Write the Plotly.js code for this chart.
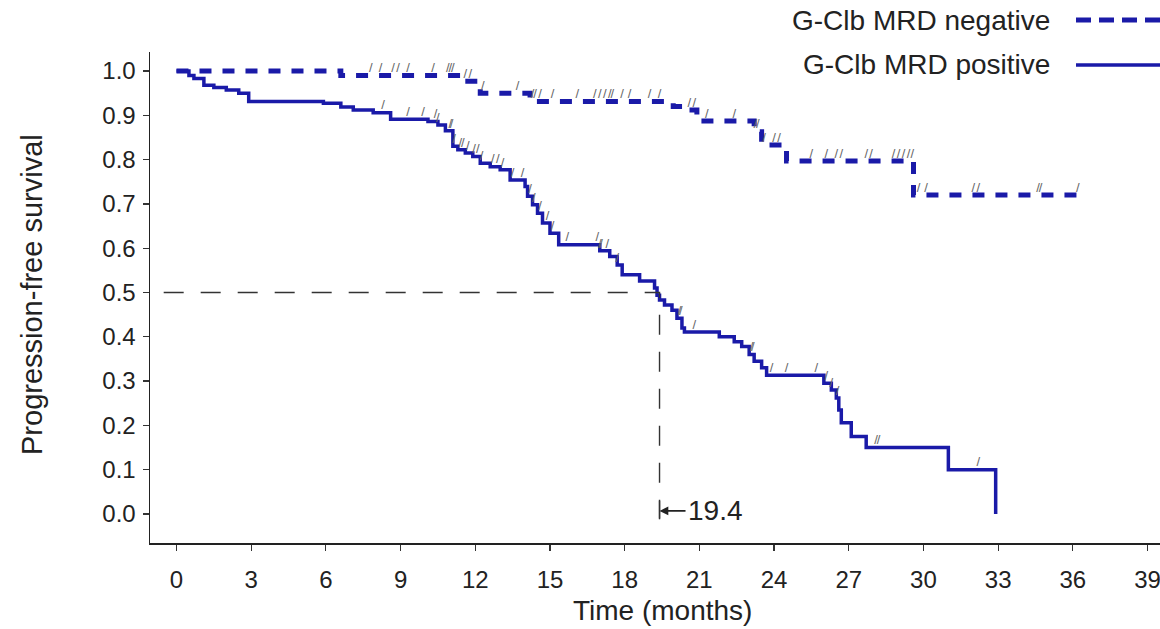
<!DOCTYPE html>
<html>
<head>
<meta charset="utf-8">
<script src="https://cdn.plot.ly/plotly-3.0.1.min.js"></script>
<style>
  html, body { margin: 0; padding: 0; background: #fff; }
  #chart { width: 1160px; height: 629px; }
</style>
</head>
<body>
<div id="chart"></div>
<script>
// ---- Data ----
const seriesNames = ["G-Clb MRD negative", "G-Clb MRD positive"];
const xTitle = "Time (months)";
const yTitle = "Progression-free survival";

// MRD negative: KM step times (months) and survival after each step
const negTimes = [0, 6.6, 11.5, 12.2, 14.2, 19.95, 20.5, 20.9, 23.2, 23.5, 24.5, 29.6, 36.2];
const negSurv  = [1.0, 0.99, 0.977, 0.95, 0.931, 0.92, 0.912, 0.887, 0.863, 0.833, 0.797, 0.72, 0.72];
const negCensor = [7.8, 8.2, 8.7, 8.9, 9.3, 10.3, 10.9, 11.0, 11.1, 11.6, 11.8, 12.3, 13.7, 14.3, 14.4,
  14.6, 15.1, 16.1, 16.8, 17.0, 17.2, 17.4, 17.5, 17.9, 18.2, 19.0, 19.4, 20.6, 20.8, 21.3, 22.4,
  23.25, 23.35, 23.6, 24.0, 24.2, 25.5, 26.1, 26.5, 26.7, 27.7, 27.9, 28.8, 29.0, 29.2, 29.4, 29.55,
  29.8, 30.1, 32.0, 32.2, 34.6, 34.7, 36.2];

// MRD positive
const posTimes = [0, 0.5, 0.7, 1.1, 1.5, 2.0, 2.5, 2.9, 5.9, 6.6, 7.1, 7.9, 8.6, 10.1, 10.5, 10.8,
  11.1, 11.3, 11.6, 11.9, 12.2, 12.6, 13.0, 13.4, 14.0, 14.1, 14.3, 14.5, 14.7, 15.0, 15.35,
  17.0, 17.4, 17.7, 17.9, 18.6, 19.2, 19.3, 19.4, 19.6, 19.9, 20.1, 20.3, 20.4,
  21.8, 22.4, 22.7, 23.0, 23.2, 23.5, 23.7, 26.0, 26.3, 26.5, 26.6, 26.7, 27.1, 27.7, 31.0, 32.9];
const posSurv = [1.0, 0.99, 0.983, 0.968, 0.963, 0.957, 0.95, 0.931, 0.927, 0.919, 0.912, 0.906, 0.891, 0.886, 0.878, 0.865,
  0.83, 0.822, 0.815, 0.807, 0.792, 0.784, 0.777, 0.754, 0.739, 0.717, 0.698, 0.679, 0.657, 0.634, 0.608,
  0.594, 0.581, 0.562, 0.54, 0.526, 0.51, 0.494, 0.483, 0.472, 0.46, 0.442, 0.42, 0.411,
  0.40, 0.389, 0.378, 0.36, 0.345, 0.33, 0.313, 0.295, 0.28, 0.262, 0.235, 0.206, 0.175, 0.15, 0.10, 0.0];
const posCensor = [8.3, 9.3, 9.9, 10.4, 10.5, 11.0, 11.05, 11.15, 11.4, 11.5, 11.7, 11.95, 12.1, 12.25, 12.7, 12.9,
  13.1, 13.5, 13.9, 14.2, 14.35, 14.6, 14.9, 15.1, 15.7, 16.9, 17.0, 17.05, 17.3, 17.7, 20.2, 20.25, 20.8,
  23.1, 23.15, 23.9, 24.5, 25.7, 26.1, 26.3, 26.55, 28.1, 28.2, 32.2];

const medianTime = 19.4;
const medianSurv = 0.5;

const xTicks = [0, 3, 6, 9, 12, 15, 18, 21, 24, 27, 30, 33, 36, 39];
const yTicks = [0, 0.1, 0.2, 0.3, 0.4, 0.5, 0.6, 0.7, 0.8, 0.9, 1.0];

// ---- Helpers ----
function stepValue(times, surv, t) {
  let v = surv[0];
  for (let i = 0; i < times.length; i++) { if (times[i] <= t) v = surv[i]; }
  return v;
}

const BLUE = "#1a1aa8";
const FONT = "Liberation Sans, Arial, sans-serif";
const TXT = "#222";

const traces = [
  { x: negTimes, y: negSurv, mode: "lines", line: { shape: "hv", color: BLUE, width: 5, dash: "12px,11px" },
    name: seriesNames[0], showlegend: false, hoverinfo: "skip" },
  { x: posTimes, y: posSurv, mode: "lines", line: { shape: "hv", color: BLUE, width: 3.5 },
    name: seriesNames[1], showlegend: false, hoverinfo: "skip" },
  { x: negCensor, y: negCensor.map(t => stepValue(negTimes, negSurv, t)), mode: "text", text: negCensor.map(() => "/"),
    textposition: "top center", textfont: { family: FONT, size: 13, color: "#666" }, showlegend: false, hoverinfo: "skip" },
  { x: posCensor, y: posCensor.map(t => stepValue(posTimes, posSurv, t)), mode: "text", text: posCensor.map(() => "/"),
    textposition: "top center", textfont: { family: FONT, size: 13, color: "#666" }, showlegend: false, hoverinfo: "skip" },
  // median reference lines
  { x: [-2, medianTime, medianTime], y: [medianSurv, medianSurv, -0.01], mode: "lines",
    line: { color: "#333", width: 1.4, dash: "20px,17px" }, showlegend: false, hoverinfo: "skip" }
];

const pxX = px => (px - 150) / 1010;
const pxY = py => (543 - py) / 491;

const layout = {
  width: 1160, height: 629,
  margin: { l: 150, r: 0, t: 52, b: 86, pad: 0 },
  paper_bgcolor: "#fff", plot_bgcolor: "#fff",
  font: { family: FONT, size: 24, color: TXT },
  showlegend: false,
  xaxis: {
    range: [-1.064, 39.5], tickvals: xTicks, ticktext: xTicks.map(String),
    showgrid: false, zeroline: false, showline: true, linecolor: TXT, linewidth: 1.5,
    ticks: "outside", ticklen: 6, tickwidth: 1.2, tickcolor: "#333",
    ticklabelstandoff: 9, ticklabeloverflow: "allow",
    tickfont: { family: FONT, size: 24, color: TXT }
  },
  yaxis: {
    range: [-0.0655, 1.0429], tickvals: yTicks, ticktext: yTicks.map(v => v.toFixed(1)),
    showgrid: false, zeroline: false, showline: true, linecolor: TXT, linewidth: 1.5,
    ticks: "outside", ticklen: 6, tickwidth: 1.2, tickcolor: "#333",
    ticklabelstandoff: 2,
    tickfont: { family: FONT, size: 24, color: TXT }
  },
  annotations: [
    { xref: "paper", yref: "paper", x: pxX(662), y: pxY(610), xanchor: "center", yanchor: "middle",
      text: xTitle, showarrow: false, font: { family: FONT, size: 28, color: TXT } },
    { xref: "paper", yref: "paper", x: pxX(32), y: pxY(295), xanchor: "center", yanchor: "middle", textangle: -90,
      text: yTitle, showarrow: false, font: { family: FONT, size: 29, color: TXT } },
    { xref: "paper", yref: "paper", x: pxX(1052), y: pxY(20), xanchor: "right", yanchor: "middle",
      text: seriesNames[0], showarrow: false, font: { family: FONT, size: 28, color: TXT } },
    { xref: "paper", yref: "paper", x: pxX(1052), y: pxY(65), xanchor: "right", yanchor: "middle",
      text: seriesNames[1], showarrow: false, font: { family: FONT, size: 28, color: TXT } },
    { xref: "x", yref: "y", x: medianTime, y: 0.007, ax: 26, ay: 0, axref: "pixel", ayref: "pixel",
      text: String(medianTime), xanchor: "left", showarrow: true, arrowhead: 2, arrowsize: 1.1, arrowwidth: 1.6,
      arrowcolor: TXT, font: { family: FONT, size: 28, color: TXT } }
  ],
  shapes: [
    { type: "line", xref: "paper", yref: "paper", x0: pxX(1076), x1: 1.0, y0: pxY(20), y1: pxY(20),
      line: { color: BLUE, width: 5, dash: "15px,8px" } },
    { type: "line", xref: "paper", yref: "paper", x0: pxX(1076), x1: 1.0, y0: pxY(65), y1: pxY(65),
      line: { color: BLUE, width: 3.5 } },
    { type: "line", xref: "x", yref: "y", x0: medianTime, x1: medianTime, y0: -0.012, y1: 0.03,
      line: { color: "#333", width: 1.4 } }
  ]
};

Plotly.newPlot("chart", traces, layout, { staticPlot: true, displayModeBar: false });
</script>
</body>
</html>
